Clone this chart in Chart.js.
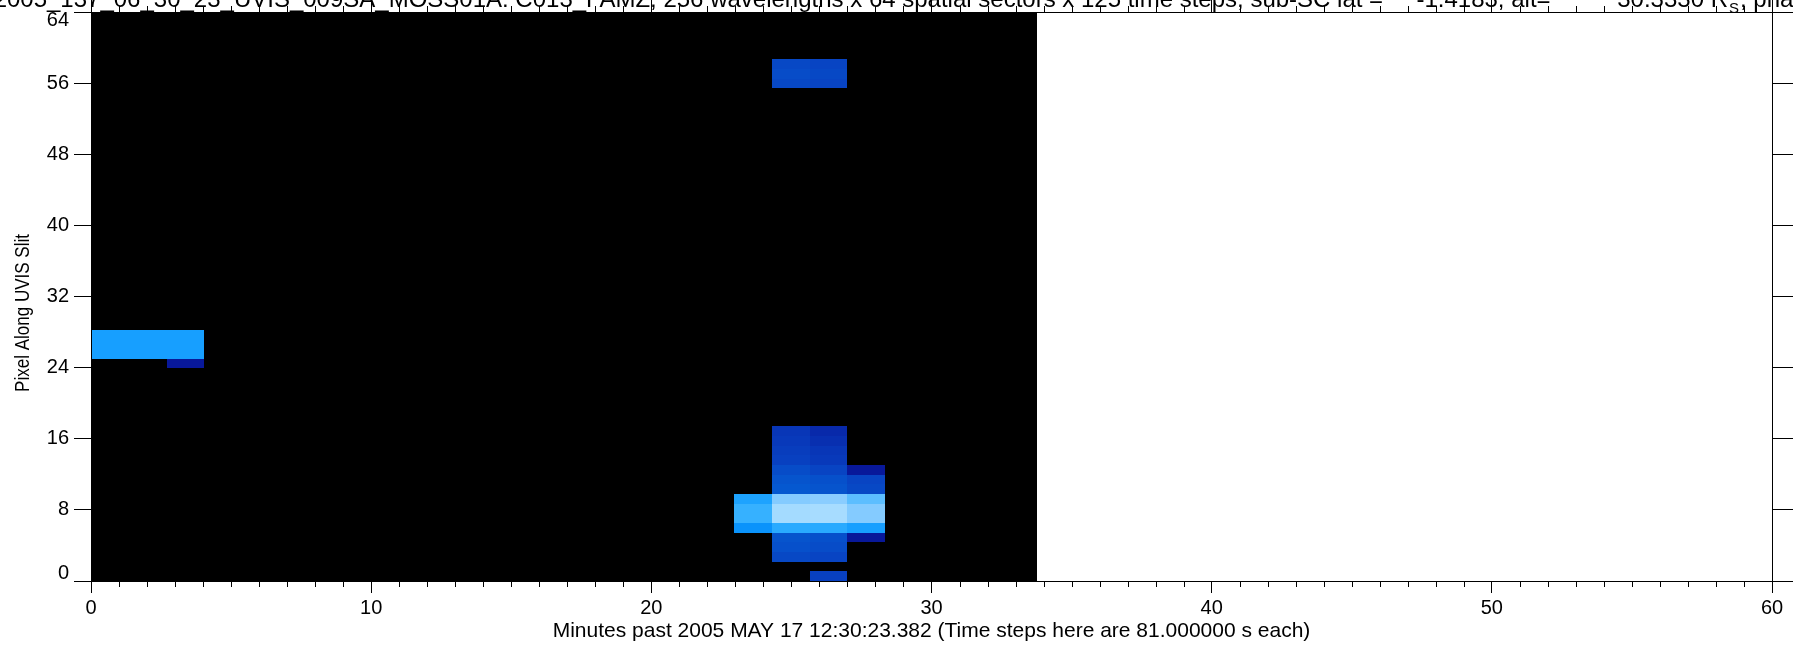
<!DOCTYPE html>
<html>
<head>
<meta charset="utf-8">
<script src="https://cdn.jsdelivr.net/npm/chart.js@4"></script>
<style>
  html, body { margin: 0; padding: 0; background: #fff; }
  #wrap { width: 1793px; height: 647px; }
</style>
</head>
<body>
<div id="wrap"><canvas id="chart" width="1793" height="647"></canvas></div>
<script>
// UVIS slit image — time steps across, slit rows up, sparse cell intensities

// ── Data ──────────────────────────────────────────────────────────────────────
const xTicks = [0, 10, 20, 30, 40, 50, 60];
const yTicks = [0, 8, 16, 24, 32, 40, 48, 56, 64];
const stepMinutes = 1.35;   // 81 s per time step
const nSteps = 25;
const nRows = 59;
const rowSpan = 1.0868;     // slit pixels covered by one image row

// one run = consecutive rows of one time step, starting at firstRow going up
const runStep     = [0, 1, 2, 17, 18, 19, 20, 18, 19];
const runFirstRow = [23, 23, 22, 5, 2, 0, 4, 51, 51];
const runLevels = [
  [0.60, 0.60, 0.60],
  [0.60, 0.60, 0.60],
  [0.28, 0.60, 0.60, 0.60],
  [0.57, 0.65, 0.65, 0.61],
  [0.42, 0.44, 0.45, 0.63, 0.86, 0.86, 0.77, 0.46, 0.45, 0.43, 0.40, 0.39, 0.38, 0.37],
  [0.40, 0, 0.41, 0.43, 0.44, 0.63, 0.87, 0.87, 0.78, 0.45, 0.44, 0.41, 0.38, 0.37, 0.35, 0.33],
  [0.28, 0.60, 0.77, 0.77, 0.71, 0.42, 0.41, 0.28],
  [0.42, 0.43, 0.42],
  [0.41, 0.42, 0.41],
];

const titleText = '2005_137_06_30_23_UVIS_009SA_MOSS01A: C013_FAMZ, 256 wavelengths x 64 spatial sectors x 125 time steps, sub-SC lat =     -1.4183, alt=          30.3330 R';
const titleTail = ', phase = 81.4';
const xTitle = 'Minutes past 2005 MAY 17 12:30:23.382 (Time steps here are 81.000000 s each)';
const yTitle = 'Pixel Along UVIS Slit';

// ── Colour table (black → blue → white) ──────────────────────────────────────
const cmapStops = [0, 0.2, 0.28, 0.40, 0.46, 0.58, 0.66, 0.78, 0.88, 1];
const cmapRGB = [[0,0,0],[0,0,110],[8,24,154],[8,64,192],[5,88,208],[10,152,255],
                 [60,180,255],[138,205,255],[170,222,255],[230,245,255]];

function levelColor(v) {
  for (let i = 1; i < cmapStops.length; i++) {
    if (v <= cmapStops[i]) {
      const t = (v - cmapStops[i - 1]) / (cmapStops[i] - cmapStops[i - 1]);
      const a = cmapRGB[i - 1], b = cmapRGB[i];
      const c = a.map((ch, k) => Math.round(ch + (b[k] - ch) * t));
      return `rgb(${c[0]},${c[1]},${c[2]})`;
    }
  }
  return 'rgb(230,245,255)';
}

const FONT = '"Liberation Sans", Arial, Helvetica, sans-serif';

// ── Plugins ───────────────────────────────────────────────────────────────────
const slitImage = {
  id: 'slitImage',
  beforeDraw(chart) {
    const { ctx, chartArea: a, scales: { x, y } } = chart;
    ctx.save();
    ctx.fillStyle = '#fff';
    ctx.fillRect(0, 0, chart.width, chart.height);
    ctx.beginPath();
    ctx.rect(a.left, a.top, a.right - a.left, a.bottom - a.top);
    ctx.clip();
    const rect = (x0, x1, y0, y1, col) => {
      const px0 = Math.round(x.getPixelForValue(x0)), px1 = Math.round(x.getPixelForValue(x1));
      const py0 = Math.round(y.getPixelForValue(y0)), py1 = Math.round(y.getPixelForValue(y1));
      ctx.fillStyle = col;
      ctx.fillRect(px0, py1, px1 - px0, py0 - py1);
    };
    rect(0, nSteps * stepMinutes, 0, nRows * rowSpan, '#000');
    runStep.forEach((s, i) => {
      runLevels[i].forEach((v, k) => {
        if (!v) return;
        const r = runFirstRow[i] + k;
        rect(s * stepMinutes, (s + 1) * stepMinutes, r * rowSpan, (r + 1) * rowSpan, levelColor(v));
      });
    });
    ctx.restore();
  },
  afterDraw(chart) {
    const { ctx, chartArea: a, scales: { x, y } } = chart;
    ctx.save();
    // minor ticks every minute on bottom and top axes
    ctx.strokeStyle = '#000';
    ctx.lineWidth = 1;
    ctx.beginPath();
    for (let m = 0; m <= 60; m++) {
      if (m % 10 === 0) continue;
      const px = Math.round(x.getPixelForValue(m)) + 0.5;
      ctx.moveTo(px, a.bottom); ctx.lineTo(px, a.bottom + 6);
      ctx.moveTo(px, a.top); ctx.lineTo(px, a.top - 6);
    }
    ctx.stroke();

    ctx.fillStyle = '#000';
    // y tick labels, end labels kept inside the axis span
    ctx.font = `20px ${FONT}`;
    ctx.textAlign = 'right';
    ctx.textBaseline = 'middle';
    yTicks.forEach(v => {
      const py = Math.min(Math.max(y.getPixelForValue(v), a.top + 8), a.bottom - 8);
      ctx.fillText(String(v), 69, py);
    });

    // y axis title, rotated and slightly condensed
    ctx.save();
    ctx.translate(23, 313);
    ctx.rotate(-Math.PI / 2);
    ctx.scale(0.81, 1);
    ctx.font = `21px ${FONT}`;
    ctx.textAlign = 'center';
    ctx.textBaseline = 'middle';
    ctx.fillText(yTitle, 0, 0);
    ctx.restore();

    // clipped plot title along the top edge
    ctx.font = `24px ${FONT}`;
    ctx.textBaseline = 'alphabetic';
    ctx.textAlign = 'right';
    ctx.fillText(titleText, 1728, 7);
    ctx.textAlign = 'left';
    ctx.font = `15px ${FONT}`;
    ctx.fillText('S', 1729, 13);
    const sw = ctx.measureText('S').width;
    ctx.font = `24px ${FONT}`;
    ctx.fillText(titleTail, 1730 + sw, 7);
    ctx.restore();
  }
};

// ── Chart ─────────────────────────────────────────────────────────────────────
const axisLine = { color: '#000', width: 1 };
const tickFont = { family: FONT, size: 20 };

new Chart(document.getElementById('chart'), {
  type: 'scatter',
  data: { datasets: [{ data: [], pointRadius: 0, xAxisID: 'x', yAxisID: 'y' }] },
  options: {
    responsive: false,
    animation: false,
    devicePixelRatio: 1,
    layout: { padding: 0 },
    plugins: { legend: { display: false }, tooltip: { enabled: false } },
    scales: {
      x: {
        type: 'linear', position: 'bottom', min: 0, max: 60,
        afterBuildTicks: s => { s.ticks = xTicks.map(v => ({ value: v })); },
        grid: { drawOnChartArea: false, tickLength: 12, color: '#000' },
        border: axisLine,
        ticks: { color: '#000', font: tickFont, padding: 3, maxRotation: 0, autoSkip: false },
        title: { display: true, text: xTitle, color: '#000', font: { family: FONT, size: 21 }, padding: { top: 0, bottom: 3 } },
        afterFit: s => { s.height = 66; }
      },
      xTop: {
        type: 'linear', position: 'top', min: 0, max: 60,
        afterBuildTicks: s => { s.ticks = xTicks.map(v => ({ value: v })); },
        grid: { drawOnChartArea: false, tickLength: 12, color: '#000' },
        border: axisLine,
        ticks: { display: false },
        afterFit: s => { s.height = 12; }
      },
      y: {
        type: 'linear', position: 'left', min: 0, max: 64,
        afterBuildTicks: s => { s.ticks = yTicks.map(v => ({ value: v })); },
        grid: { drawOnChartArea: false, tickLength: 17, color: '#000' },
        border: axisLine,
        ticks: { display: false },
        afterFit: s => { s.width = 91; s.paddingTop = 0; s.paddingBottom = 0; }
      },
      yRight: {
        type: 'linear', position: 'right', min: 0, max: 64,
        afterBuildTicks: s => { s.ticks = yTicks.map(v => ({ value: v })); },
        grid: { drawOnChartArea: false, tickLength: 21, color: '#000' },
        border: axisLine,
        ticks: { display: false },
        afterFit: s => { s.width = 21; s.paddingTop = 0; s.paddingBottom = 0; }
      }
    }
  },
  plugins: [slitImage]
});
</script>
</body>
</html>
